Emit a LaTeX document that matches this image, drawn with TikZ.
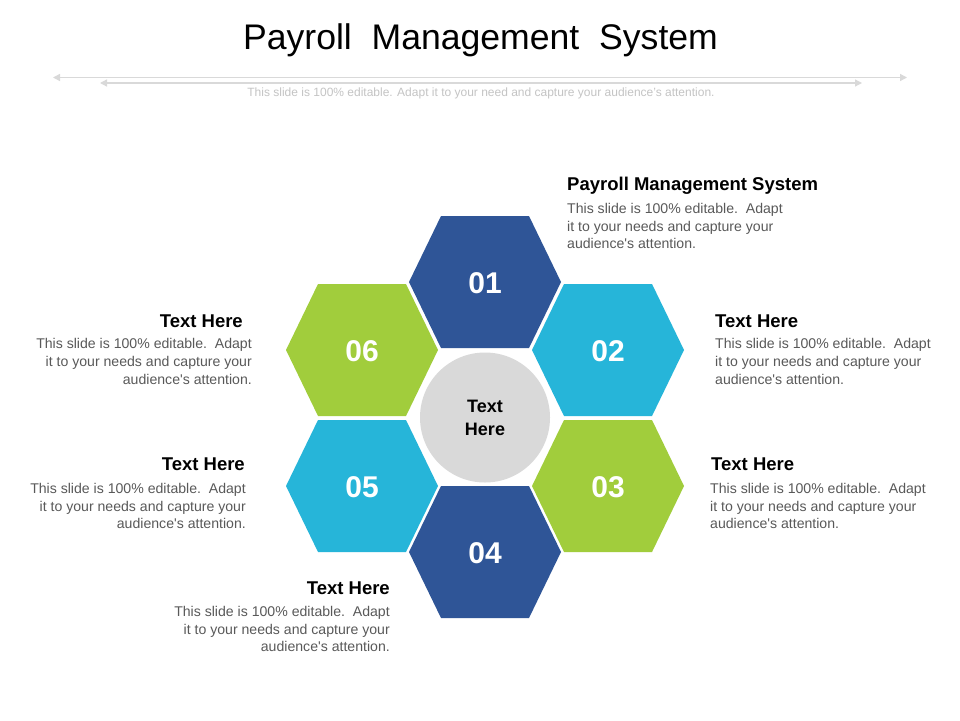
\documentclass[tikz,border=0pt]{standalone}
\usepackage{fontspec}
\setmainfont{Liberation Sans}
\usetikzlibrary{arrows.meta}
\definecolor{dblue}{HTML}{2F5597}
\definecolor{lblue}{HTML}{26B5D9}
\definecolor{lgreen}{HTML}{A1CD3C}
\definecolor{cgray}{HTML}{D9D9D9}
\definecolor{btext}{HTML}{595959}
\definecolor{stext}{HTML}{C4C4C4}
\definecolor{lgray}{HTML}{D9D9D9}
\newcommand{\bodytext}{This slide is 100\% editable.\ \ Adapt\\it to your needs and capture your\\audience\textquotesingle s attention.}
\tikzset{
  hexpic/.pic={\fill (-76,0) -- (-44,-66) -- (44,-66) -- (76,0) -- (44,66) -- (-44,66) -- cycle;},
  hexnum/.style={text=white, inner sep=0, font=\bfseries\fontsize{30}{30}\selectfont},
  head/.style={inner sep=0, font=\bfseries\fontsize{18.5}{20}\selectfont},
  bodytxt/.style={inner sep=0, text=btext, font=\fontsize{14.1}{17.6}\selectfont},
  guide/.style={draw=lgray, line width=1.3pt, {Triangle[length=7pt,width=7pt]}-{Triangle[length=7pt,width=7pt]}},
}
\begin{document}
\begin{tikzpicture}[x=1pt,y=-1pt]
\useasboundingbox[fill=white] (0,0) rectangle (960,720);

% title and subtitle
\node[anchor=base, font=\fontsize{35.6}{40}\selectfont] (title) at (480.5,49) {Payroll\ \ Management\ \ System};
\coordinate (l1a) at (53,77.5);
\coordinate (l1b) at (907,77.5);
\coordinate (l2a) at (100,83);
\coordinate (l2b) at (862,83);
\draw[guide] (l1a) -- (l1b);
\draw[guide] (l2a) -- (l2b);
\node[text=stext, font=\fontsize{12}{13}\selectfont] (sub) at (481,93.5) {This slide is 100\% editable. Adapt it to your need and capture your audience’s attention.};

% hexagons
\pic[fill=dblue]  at (485,282) {hexpic};
\pic[fill=lblue]  at (608,350) {hexpic};
\pic[fill=lgreen] at (608,486) {hexpic};
\pic[fill=dblue]  at (485,552) {hexpic};
\pic[fill=lblue]  at (362,486) {hexpic};
\pic[fill=lgreen] at (362,350) {hexpic};
\node[hexnum] (h1) at (485,283) {01};
\node[hexnum] (h2) at (608,351) {02};
\node[hexnum] (h3) at (608,487) {03};
\node[hexnum] (h4) at (485,553) {04};
\node[hexnum] (h5) at (362,487) {05};
\node[hexnum] (h6) at (362,351) {06};

% center circle
\node[circle, fill=cgray, minimum size=130pt, inner sep=0, align=center,
      font=\bfseries\fontsize{18}{23}\selectfont] (c) at (485,417.5) {Text\\Here};

% text blocks
\node[head, anchor=base west] (t1) at (567,190.5) {Payroll Management System};
\node[bodytxt, anchor=north west, align=left] (b1) at (567,203) {\bodytext};

\node[head, anchor=base west] (t2) at (715,327.5) {Text Here};
\node[bodytxt, anchor=north west, align=left] (b2) at (715,338.5) {\bodytext};

\node[head, anchor=base west] (t3) at (711,470) {Text Here};
\node[bodytxt, anchor=north west, align=left] (b3) at (710,483) {\bodytext};

\node[head, anchor=base east] (t6) at (243,327.5) {Text Here};
\node[bodytxt, anchor=north east, align=right] (b6) at (252,338.5) {\bodytext};

\node[head, anchor=base east] (t5) at (245,470) {Text Here};
\node[bodytxt, anchor=north east, align=right] (b5) at (246,483) {\bodytext};

\node[head, anchor=base east] (t4) at (390,594) {Text Here};
\node[bodytxt, anchor=north east, align=right] (b4) at (390,606) {\bodytext};
\end{tikzpicture}
\end{document}
